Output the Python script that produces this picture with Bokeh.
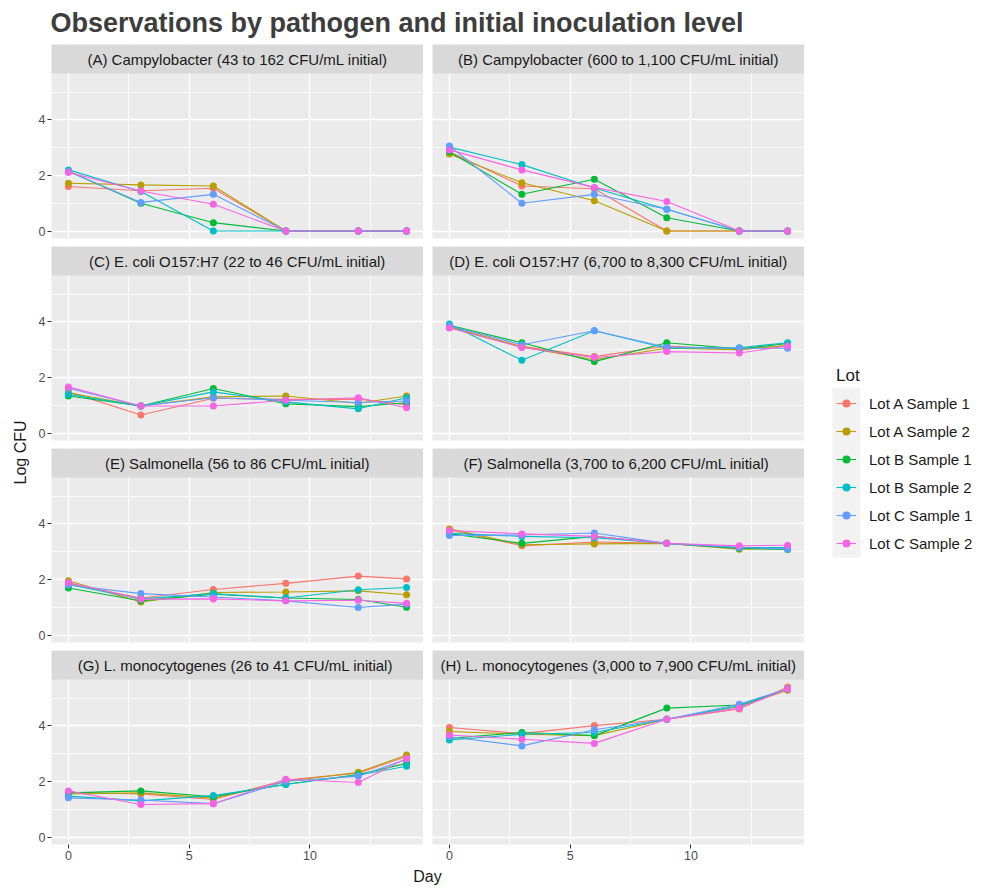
import numpy as np
from bokeh.plotting import figure
from bokeh.layouts import row, column
from bokeh.models import (Range1d, FixedTicker, Grid, LinearAxis, BoxAnnotation,
                          Label, Legend, LegendItem)
from bokeh.embed import file_html
from bokeh.resources import INLINE

# ---------------- data ----------------
days = [0, 3, 6, 9, 12, 14]
lots = ["Lot A Sample 1", "Lot A Sample 2", "Lot B Sample 1",
        "Lot B Sample 2", "Lot C Sample 1", "Lot C Sample 2"]
colors = ["#F8766D", "#B79F00", "#00BA38", "#00BFC4", "#619CFF", "#F564E3"]

titles = [
    "(A) Campylobacter (43 to 162 CFU/mL initial)",
    "(B) Campylobacter (600 to 1,100 CFU/mL initial)",
    "(C) E. coli O157:H7 (22 to 46 CFU/mL initial)",
    "(D) E. coli O157:H7 (6,700 to 8,300 CFU/mL initial)",
    "(E) Salmonella (56 to 86 CFU/mL initial)",
    "(F) Salmonella (3,700 to 6,200  CFU/mL initial)",
    "(G) L. monocytogenes (26 to 41  CFU/mL initial)",
    "(H) L. monocytogenes (3,000 to 7,900 CFU/mL initial)",
]

# rows: Lot A S1, Lot A S2, Lot B S1, Lot B S2, Lot C S1, Lot C S2
panel_A = [[1.60, 1.45, 1.54, 0, 0, 0],
           [1.72, 1.66, 1.62, 0, 0, 0],
           [2.15, 1.00, 0.30, 0, 0, 0],
           [2.20, 1.42, 0.00, 0, 0, 0],
           [2.15, 1.03, 1.32, 0, 0, 0],
           [2.11, 1.44, 0.96, 0, 0, 0]]
panel_B = [[2.85, 1.62, 1.52, 0, 0, 0],
           [2.77, 1.74, 1.09, 0, 0, 0],
           [2.85, 1.32, 1.86, 0.48, 0, 0],
           [3.02, 2.39, 1.55, 0.78, 0, 0],
           [3.06, 1.00, 1.32, 0.78, 0, 0],
           [2.92, 2.20, 1.57, 1.06, 0, 0]]
panel_C = [[1.48, 0.65, 1.25, 1.21, 1.22, 1.02],
           [1.45, 0.97, 1.30, 1.33, 1.07, 1.33],
           [1.33, 0.97, 1.60, 1.05, 0.95, 1.09],
           [1.39, 0.97, 1.48, 1.12, 0.87, 1.27],
           [1.61, 0.97, 1.27, 1.18, 1.10, 1.15],
           [1.66, 0.97, 0.97, 1.18, 1.27, 0.91]]
panel_D = [[3.80, 3.12, 2.75, 3.13, 3.00, 3.15],
           [3.82, 3.10, 2.64, 3.05, 3.00, 3.15],
           [3.88, 3.25, 2.57, 3.25, 3.03, 3.22],
           [3.92, 2.62, 3.68, 3.05, 3.07, 3.25],
           [3.85, 3.18, 3.68, 3.09, 3.05, 3.05],
           [3.78, 3.08, 2.72, 2.93, 2.88, 3.13]]
panel_E = [[1.85, 1.33, 1.64, 1.86, 2.12, 2.02],
           [1.95, 1.19, 1.53, 1.55, 1.59, 1.45],
           [1.69, 1.23, 1.47, 1.33, 1.28, 1.00],
           [1.82, 1.30, 1.49, 1.33, 1.63, 1.71],
           [1.80, 1.49, 1.37, 1.23, 0.99, 1.11],
           [1.89, 1.29, 1.30, 1.23, 1.25, 1.14]]
panel_F = [[3.78, 3.21, 3.35, 3.30, 3.12, 3.15],
           [3.82, 3.25, 3.28, 3.30, 3.09, 3.12],
           [3.65, 3.30, 3.55, 3.30, 3.12, 3.08],
           [3.66, 3.55, 3.50, 3.30, 3.15, 3.15],
           [3.58, 3.60, 3.67, 3.30, 3.15, 3.10],
           [3.76, 3.64, 3.55, 3.30, 3.21, 3.23]]
panel_G = [[1.60, 1.55, 1.35, 2.05, 2.30, 2.90],
           [1.55, 1.59, 1.40, 2.00, 2.33, 2.95],
           [1.59, 1.66, 1.45, 1.90, 2.25, 2.65],
           [1.47, 1.30, 1.49, 1.89, 2.23, 2.55],
           [1.41, 1.33, 1.20, 2.00, 2.19, 2.80],
           [1.66, 1.17, 1.20, 2.08, 1.96, 2.83]]
panel_H = [[3.94, 3.72, 4.01, 4.24, 4.61, 5.40],
           [3.80, 3.70, 3.65, 4.24, 4.70, 5.28],
           [3.55, 3.76, 3.65, 4.64, 4.75, 5.33],
           [3.49, 3.70, 3.76, 4.24, 4.72, 5.33],
           [3.61, 3.28, 3.86, 4.24, 4.78, 5.33],
           [3.67, 3.52, 3.37, 4.24, 4.64, 5.33]]

x_major = [0, 5, 10]
x_minor = [2.5, 7.5, 12.5]
y_major = [0, 2, 4]
y_minor = [1, 3, 5]

# ---------------- styling / geometry ----------------
FONT = "Liberation Sans"
X0, X1 = -0.7, 14.7
Y0, YP = -0.27, 5.67
STRIP_PX, PANEL_PX = 29, 165
YTOP = YP + (YP - Y0) * STRIP_PX / PANEL_PX
YLAB_W = 32
LEFT_W, RIGHT_W = 391, 381
ROW_H, LAST_H = 202, 216
TITLE_H, DAY_H = 44, 20
MAIN_W = LEFT_W + RIGHT_W
TOTAL_H = TITLE_H + 3 * ROW_H + LAST_H + DAY_H  # 886
LEG_W = 176


def blank(width, height):
    f = figure(width=width, height=height, x_range=Range1d(0, width),
               y_range=Range1d(0, height), x_axis_location=None,
               y_axis_location=None, toolbar_location=None,
               output_backend="svg", min_border=0)
    f.center = []
    f.outline_line_color = None
    f.background_fill_color = "white"
    f.border_fill_color = "white"
    return f


def make_panel(title, data, left, bottom):
    p = figure(width=LEFT_W if left else RIGHT_W,
               height=LAST_H if bottom else ROW_H,
               x_range=Range1d(X0, X1), y_range=Range1d(Y0, YTOP),
               x_axis_location=None, y_axis_location=None,
               toolbar_location=None, output_backend="svg",
               min_border_left=19 if left else 9, min_border_right=0,
               min_border_top=0, min_border_bottom=22 if bottom else 8)
    p.center = []
    p.background_fill_color = "#EBEBEB"
    p.border_fill_color = "white"
    p.outline_line_color = None
    p.add_layout(Grid(dimension=0, ticker=FixedTicker(ticks=x_major, minor_ticks=x_minor),
                      grid_line_color="white", grid_line_width=1.4,
                      minor_grid_line_color="white", minor_grid_line_width=0.8))
    p.add_layout(Grid(dimension=1, ticker=FixedTicker(ticks=y_major, minor_ticks=y_minor),
                      grid_line_color="white", grid_line_width=1.4,
                      minor_grid_line_color="white", minor_grid_line_width=0.8))
    axis_style = dict(axis_line_color=None, major_tick_line_color="#333333",
                      major_tick_in=0, major_tick_out=4, minor_tick_line_color=None,
                      major_label_text_font=FONT, major_label_text_font_size="12.5px",
                      major_label_text_color="#4D4D4D", major_label_standoff=2)
    if left:
        p.add_layout(LinearAxis(ticker=FixedTicker(ticks=y_major), **axis_style), "left")
    if bottom:
        p.add_layout(LinearAxis(ticker=FixedTicker(ticks=x_major), **axis_style), "below")
    for vals, c in zip(data, colors):
        p.line(days, vals, line_color=c, line_width=1.1)
    for vals, c in zip(data, colors):
        p.scatter(days, vals, size=7, fill_color=c, line_color=None)
    p.add_layout(BoxAnnotation(bottom=YP, fill_color="#D9D9D9", fill_alpha=1,
                               line_color=None, level="overlay"))
    p.add_layout(Label(x=(X0 + X1) / 2, y=(YP + YTOP) / 2, text=title,
                       text_align="center", text_baseline="middle",
                       text_font=FONT, text_font_size="15px",
                       text_color="#1A1A1A", level="overlay"))
    return p


panels = [panel_A, panel_B, panel_C, panel_D, panel_E, panel_F, panel_G, panel_H]
figs = []
for i, (t, d) in enumerate(zip(titles, panels)):
    figs.append(make_panel(t, d, left=(i % 2 == 0), bottom=(i >= 6)))

# title
title_fig = blank(MAIN_W, TITLE_H)
title_fig.add_layout(Label(x=50 - YLAB_W, y=TITLE_H - 22,
                           text="Observations by pathogen and initial inoculation level",
                           text_font=FONT, text_font_style="bold", text_font_size="27px",
                           text_color="#3D3D3D", text_align="left", text_baseline="middle"))

# x label
day_fig = blank(MAIN_W, DAY_H)
day_fig.add_layout(Label(x=427 - YLAB_W, y=DAY_H / 2, text="Day", text_font=FONT,
                         text_font_size="16px", text_color="#1A1A1A",
                         text_align="center", text_baseline="middle"))

# y label
ylab_fig = blank(YLAB_W, TOTAL_H)
ylab_fig.add_layout(Label(x=20, y=TOTAL_H - 452, text="Log CFU", angle=np.pi / 2,
                          text_font=FONT, text_font_size="16px", text_color="#1A1A1A",
                          text_align="center", text_baseline="middle"))

# legend
LEG_X = YLAB_W + MAIN_W  # page x of legend figure
leg_fig = blank(LEG_W, TOTAL_H)
leg_fig.add_layout(BoxAnnotation(left=832 - LEG_X, right=860 - LEG_X,
                                 bottom=TOTAL_H - 557, top=TOTAL_H - 387,
                                 fill_color="#F2F2F2", fill_alpha=1, line_color=None,
                                 level="underlay"))
items = []
for name, vals, c in zip(lots, panel_H, colors):
    rl = leg_fig.line(days, vals, line_color=c, line_width=1.1, visible=False)
    rs = leg_fig.scatter(days, vals, size=7, fill_color=c, line_color=None, visible=False)
    items.append(LegendItem(label=name, renderers=[rl, rs]))
legend = Legend(items=items, location=(836 - LEG_X, TOTAL_H - 557), title="Lot",
                title_text_font=FONT, title_text_font_size="17px",
                title_text_color="#1A1A1A", title_text_font_style="normal",
                title_standoff=3,
                label_text_font=FONT, label_text_font_size="15px",
                label_text_color="#1A1A1A",
                glyph_width=20, glyph_height=28, label_height=28,
                label_standoff=13, spacing=0, padding=0, margin=0,
                border_line_color=None, background_fill_alpha=0,
                click_policy="none")
leg_fig.add_layout(legend)

main = column(title_fig,
              row(figs[0], figs[1]),
              row(figs[2], figs[3]),
              row(figs[4], figs[5]),
              row(figs[6], figs[7]),
              day_fig)
layout = row(ylab_fig, main, leg_fig)

open("out.html", "w").write(file_html(layout, INLINE))
